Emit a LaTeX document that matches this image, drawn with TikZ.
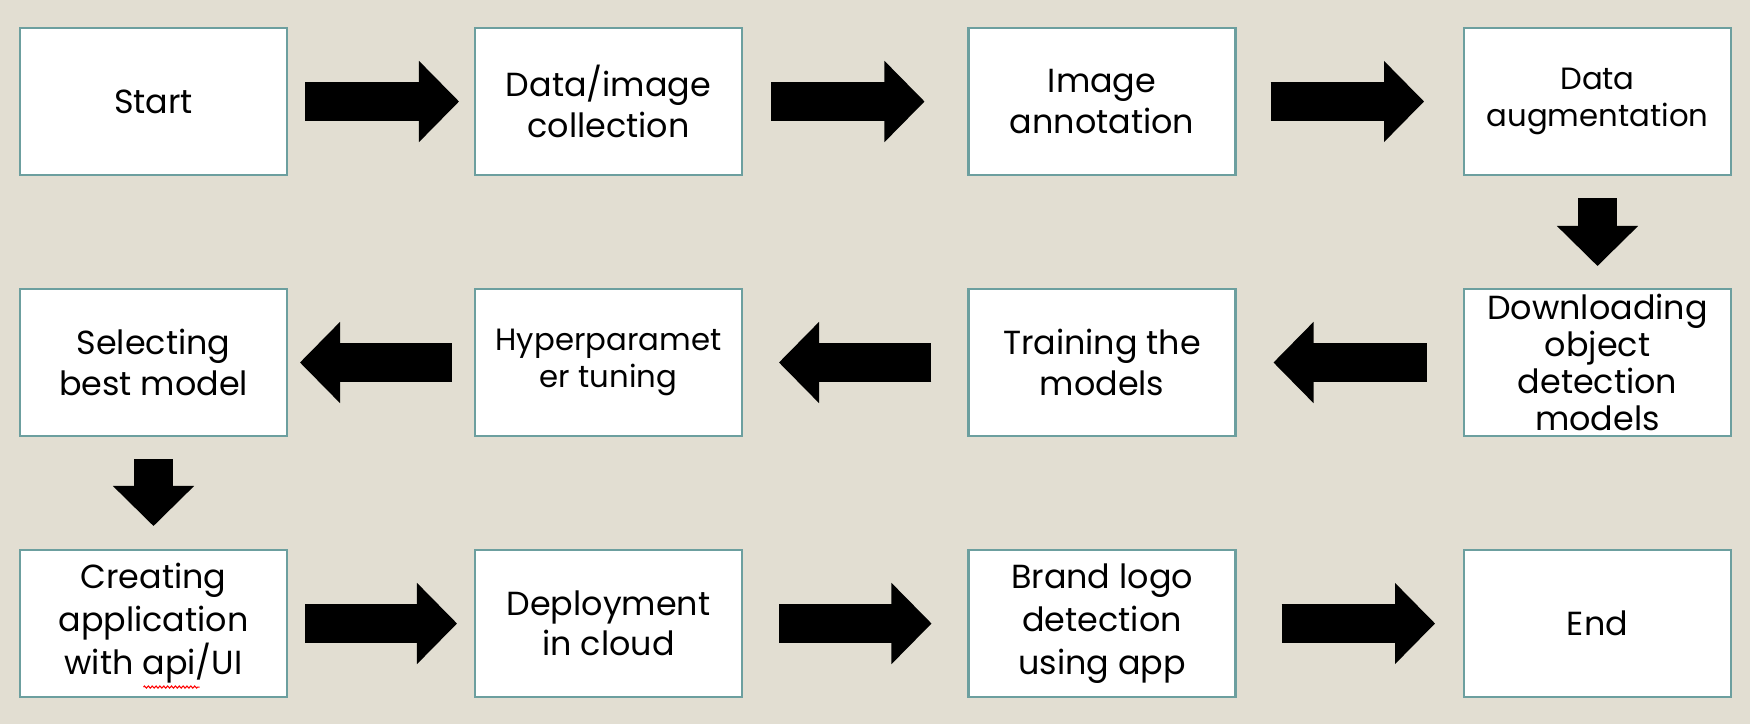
\documentclass[tikz,border=0pt]{standalone}
\usepackage{fontspec}
\setmainfont{Poppins}
\usetikzlibrary{arrows.meta,calc,decorations.pathmorphing}

\definecolor{slidebg}{RGB}{226,222,210}
\definecolor{boxline}{RGB}{108,159,159}

\tikzstyle{stepbox}=[rectangle,draw=boxline,line width=1.2pt,fill=white,minimum width=5.34cm,minimum height=2.94cm,inner sep=0pt,align=center]
\tikzstyle{blockarrow}=[line width=0.78cm,-{Triangle[length=0.8cm,width=1.62cm,line width=0.8pt]}]

\begin{document}
\begin{tikzpicture}[x=0.02cm, y=-0.02cm]
	    	%Slide background
	    	\fill[slidebg] (0,0) rectangle (1750,724);
	    	%First row of boxes
	    	\foreach \pos/\name/\fs/\ls/\txt in {{(153.5,101.5)/start/19/23/{Start}}, 	{(608.5,101.5)/collect/19/23/{Data/image\\collection}},
	    							 {(1102,101.5)/annot/19/23/{Image\\annotation}},	{(1597.5,101.5)/augment/17.5/21.5/{Data\\augmentation}}}
		    \node[stepbox,font=\fontsize{\fs pt}{\ls pt}\selectfont] (\name) at \pos {\txt};
		    %Second row of boxes
		    \foreach \pos/\name/\fs/\ls/\txt in {{(153.5,362.5)/select/19/23/{Selecting\\best model}}, 	{(608.5,362.5)/tune/17.5/21.5/{Hyperparamet\\er tuning}},
		    						{(1102,362.5)/train/19/23/{Training the\\models}},	{(1597.5,362.5)/download/19/21/{Downloading\\object\\detection\\models}}}
		    \node[stepbox,font=\fontsize{\fs pt}{\ls pt}\selectfont] (\name) at \pos {\txt};
		    %Third row of boxes
		    \foreach \pos/\name/\fs/\ls/\txt in {{(153.5,623.5)/create/19/24.5/{Creating\\application\\with api/UI}}, 	{(608.5,623.5)/deploy/19/23/{Deployment\\in cloud}},
		    						{(1102,623.5)/brand/19/24.5/{Brand logo\\detection\\using app}},	{(1597.5,623.5)/finish/19/23/{End}}}
		    \node[stepbox,font=\fontsize{\fs pt}{\ls pt}\selectfont] (\name) at \pos {\txt};
		    %Spell check mark under api
		    \draw[red,line width=0.6pt,decorate,decoration={zigzag,amplitude=0.6pt,segment length=2.2pt}] ($(create.south)+(-10,-11)$) -- ($(create.south)+(46,-11)$);
		    %Block arrows between the boxes
		    \draw[blockarrow] ($(start.east)+(17,0)$) -- ($(collect.west)+(-15,0)$);
		    \draw[blockarrow] ($(collect.east)+(28,0)$) -- ($(annot.west)+(-43,0)$);
		    \draw[blockarrow] ($(annot.east)+(34,0)$) -- ($(augment.west)+(-39,0)$);
		    \draw[blockarrow] ($(augment.south)+(0,22)$) -- ($(download.north)+(0,-22)$);
		    \draw[blockarrow] ($(download.west)+(-36,0)$) -- ($(train.east)+(37,0)$);
		    \draw[blockarrow] ($(train.west)+(-36,0)$) -- ($(tune.east)+(36,0)$);
		    \draw[blockarrow] ($(tune.west)+(-22,0)$) -- ($(select.east)+(12,0)$);
		    \draw[blockarrow] ($(select.south)+(0,22)$) -- ($(create.north)+(0,-23)$);
		    \draw[blockarrow] ($(create.east)+(17,0)$) -- ($(deploy.west)+(-17,0)$);
		    \draw[blockarrow] ($(deploy.east)+(36,0)$) -- ($(brand.west)+(-36,0)$);
		    \draw[blockarrow] ($(brand.east)+(45,0)$) -- ($(finish.west)+(-28,0)$);
	    \end{tikzpicture}
\end{document}
